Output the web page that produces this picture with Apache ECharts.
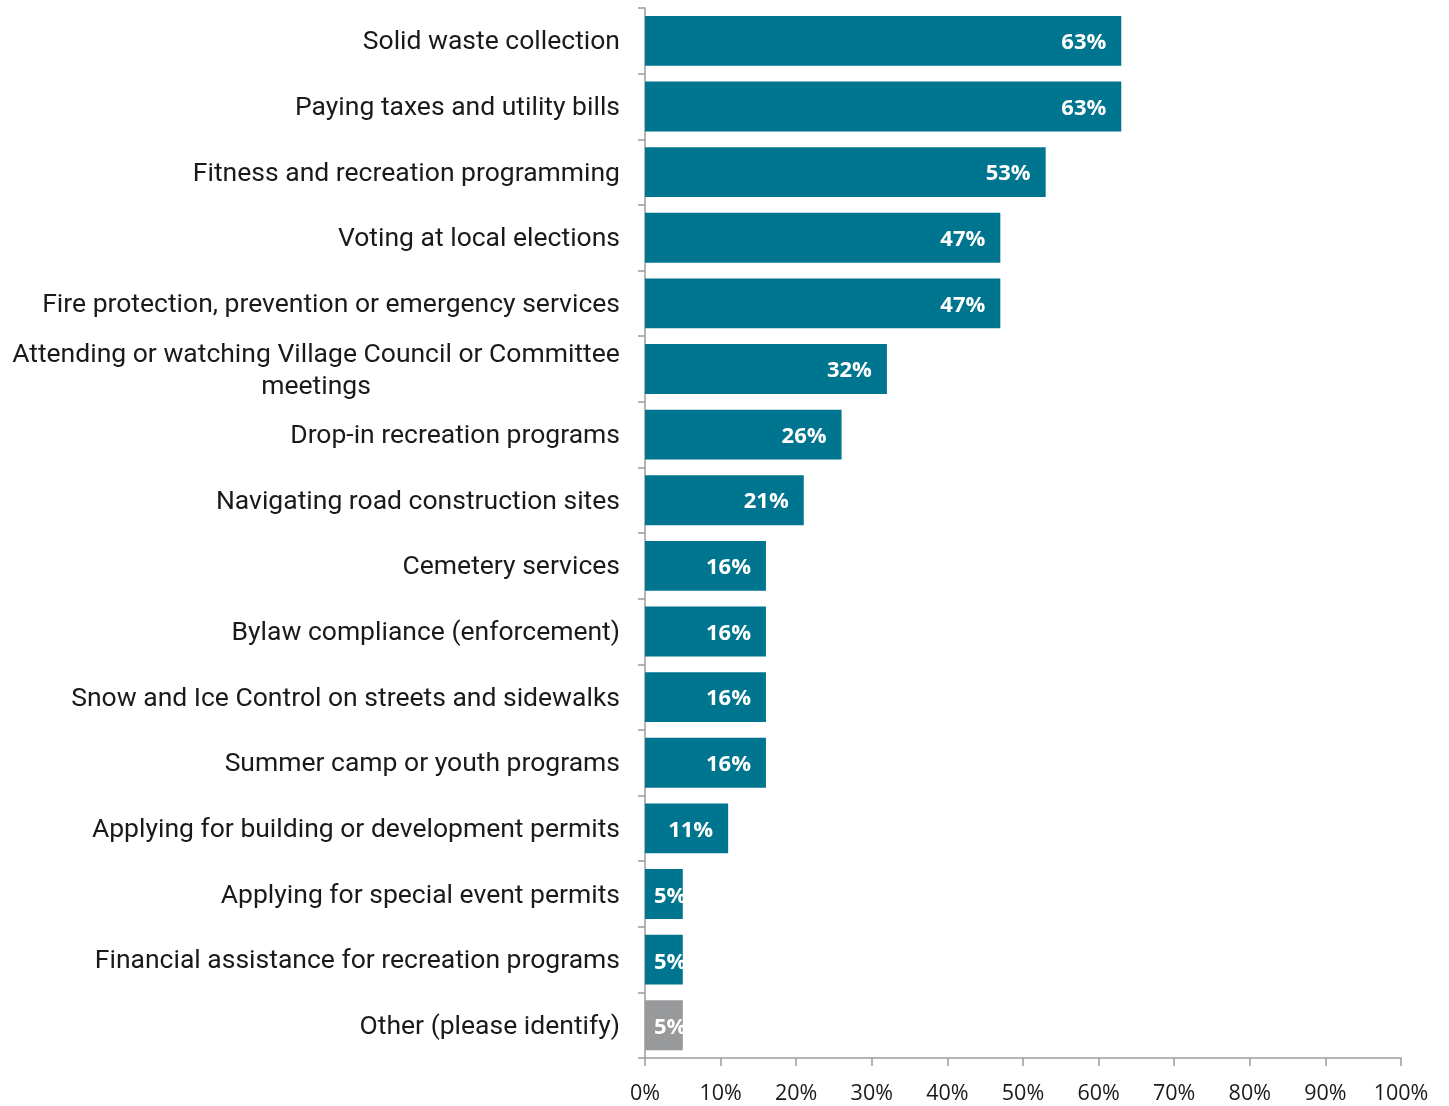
<!DOCTYPE html>
<html>
<head>
<meta charset="utf-8">
<title>Municipal services used</title>
<script src="https://cdn.jsdelivr.net/npm/echarts@6/dist/echarts.min.js"></script>
<style>
  html, body { margin: 0; padding: 0; background: #ffffff; }
  #chart { width: 1449px; height: 1106px; }
</style>
</head>
<body>
<div id="chart"></div>
<script>
// Services, listed top to bottom
const categories = [
  'Solid waste collection',
  'Paying taxes and utility bills',
  'Fitness and recreation programming',
  'Voting at local elections',
  'Fire protection, prevention or emergency services',
  'Attending or watching Village Council or Committee meetings',
  'Drop-in recreation programs',
  'Navigating road construction sites',
  'Cemetery services',
  'Bylaw compliance (enforcement)',
  'Snow and Ice Control on streets and sidewalks',
  'Summer camp or youth programs',
  'Applying for building or development permits',
  'Applying for special event permits',
  'Financial assistance for recreation programs',
  'Other (please identify)'
];

// Share of respondents (%)
const shares = [63, 63, 53, 47, 47, 32, 26, 21, 16, 16, 16, 16, 11, 5, 5, 5];

// Axis ticks (%)
const axisMin = 0;
const axisMax = 100;
const axisStep = 10;

const TEAL = '#00758F';
const GREY = '#98999B';
const AXIS = '#9C9C9C';
const LABEL_FONT = '26.5px Roboto';
const LABEL_MAX_WIDTH = 615;

// Word-wrap long category names; wrapped lines are centred on each other
const measureCtx = document.createElement('canvas').getContext('2d');
measureCtx.font = LABEL_FONT;
const wrapStyles = {
  line: { align: 'center', fontFamily: 'Roboto', fontSize: 26.5, color: '#1a1a1a', lineHeight: 32 }
};
function wrapLabel(text) {
  const words = text.split(' ');
  const lines = [];
  let line = '';
  words.forEach(function (w) {
    const trial = line ? line + ' ' + w : w;
    if (line && measureCtx.measureText(trial).width > LABEL_MAX_WIDTH) {
      lines.push(line);
      line = w;
    } else {
      line = trial;
    }
  });
  lines.push(line);
  if (lines.length === 1) return text;
  const blockWidth = Math.ceil(Math.max.apply(null, lines.map(function (l) {
    return measureCtx.measureText(l).width;
  })));
  wrapStyles.line.width = Math.max(wrapStyles.line.width || 0, blockWidth);
  return lines.map(function (l) { return '{line|' + l + '}'; }).join('\n');
}
const wrappedNames = categories.map(wrapLabel);

const seriesData = shares.map(function (v, i) {
  const isOther = categories[i].indexOf('Other') === 0;
  const narrow = v < 10;
  return {
    value: v,
    itemStyle: { color: isOther ? GREY : TEAL },
    label: narrow
      ? { position: 'insideLeft', distance: 9, offset: [0, 3] }
      : { position: 'insideRight', distance: 15, offset: [0, 2] }
  };
});

const chart = echarts.init(document.getElementById('chart'), null, { renderer: 'canvas' });

chart.setOption({
  animation: false,
  backgroundColor: '#ffffff',
  grid: { left: 645, right: 48, top: 8, bottom: 48, containLabel: false },
  xAxis: {
    type: 'value',
    min: axisMin,
    max: axisMax,
    interval: axisStep,
    axisLine: { show: true, lineStyle: { color: AXIS, width: 1.5 } },
    axisTick: { show: true, length: 8, lineStyle: { color: AXIS, width: 1.5 } },
    splitLine: { show: false },
    axisLabel: {
      formatter: '{value}%',
      fontFamily: 'Open Sans',
      fontSize: 21.5,
      color: '#1a1a1a',
      margin: 25
    }
  },
  yAxis: {
    type: 'category',
    inverse: true,
    data: categories,
    axisLine: { show: true, lineStyle: { color: AXIS, width: 1.5 } },
    axisTick: { show: true, length: 7, lineStyle: { color: AXIS, width: 1.5 } },
    splitLine: { show: false },
    axisLabel: {
      fontFamily: 'Roboto',
      fontSize: 26.5,
      color: '#1a1a1a',
      margin: 25,
      align: 'right',
      lineHeight: 32,
      padding: [4, 0, 0, 0],
      formatter: function (value, index) { return wrappedNames[index]; },
      rich: wrapStyles
    }
  },
  series: [{
    type: 'bar',
    data: seriesData,
    barCategoryGap: '24%',
    label: {
      show: true,
      formatter: '{c}%',
      fontFamily: 'Open Sans',
      fontWeight: 'bold',
      fontSize: 22,
      color: '#ffffff'
    }
  }]
});
</script>
</body>
</html>
